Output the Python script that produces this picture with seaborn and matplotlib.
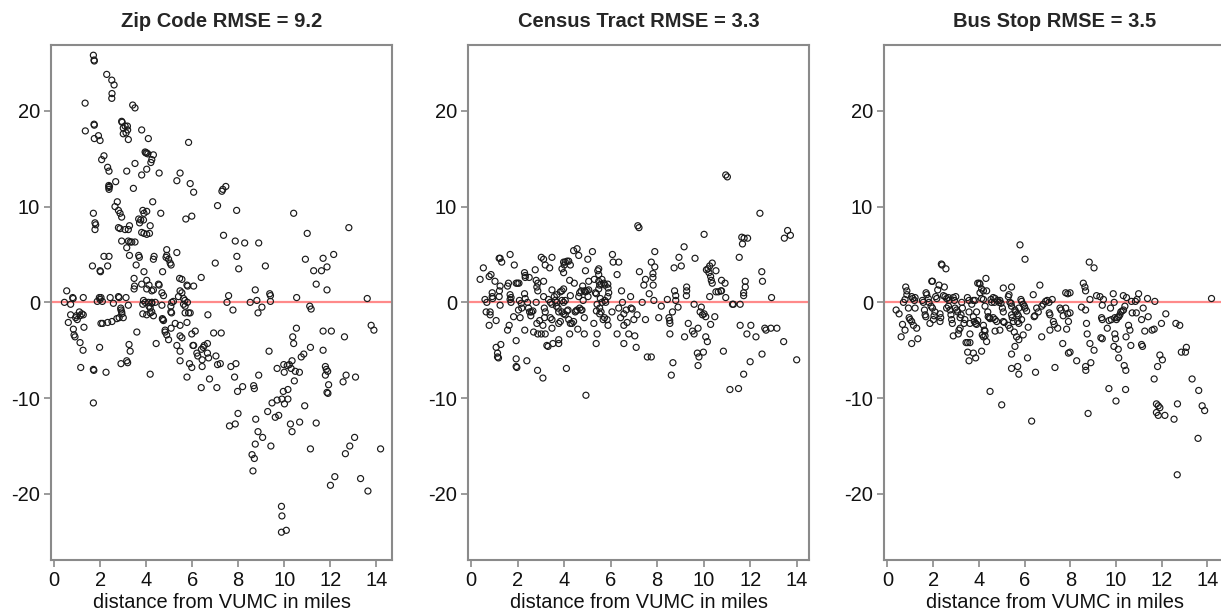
import matplotlib
matplotlib.use("Agg")
import matplotlib.pyplot as plt
import seaborn as sns
import pandas as pd

# ---------------- data ----------------
titles = ["Zip Code RMSE = 9.2", "Census Tract RMSE = 3.3", "Bus Stop RMSE = 3.5"]
x_label = "distance from VUMC in miles"
x_ticks = [0, 2, 4, 6, 8, 10, 12, 14]
y_ticks = [-20, -10, 0, 10, 20]

zip_pts = [
    (1.70, 25.8), (1.73, 25.3), (1.74, 25.2), (2.28, 23.8), (2.50, 23.2), (2.60, 22.7),
    (2.51, 21.8), (2.50, 21.3), (1.34, 20.8), (3.41, 20.6), (3.51, 20.3), (1.35, 17.9),
    (1.73, 18.6), (1.74, 18.5), (1.74, 17.1), (1.92, 17.4), (1.99, 16.9), (2.93, 18.9),
    (2.95, 18.8), (3.08, 18.4), (3.18, 18.4), (3.00, 18.2), (3.12, 17.7), (3.19, 18.0),
    (3.00, 17.6), (3.22, 17.0), (3.80, 18.0), (4.09, 17.1), (5.84, 16.7), (3.95, 15.7),
    (4.02, 15.6), (4.07, 15.5), (3.98, 15.6), (4.31, 15.4), (4.24, 14.9), (4.20, 14.6),
    (2.16, 15.3), (2.06, 14.9), (3.51, 14.5), (2.32, 14.1), (2.38, 13.7), (3.15, 13.7),
    (4.02, 13.9), (3.80, 13.3), (4.56, 13.5), (5.47, 13.5), (5.33, 12.7), (5.91, 12.4),
    (6.06, 11.5), (2.67, 12.6), (2.37, 12.2), (2.37, 12.0), (2.38, 11.8), (2.40, 12.1),
    (3.44, 11.9), (7.29, 11.6), (7.33, 11.8), (7.46, 12.1), (4.28, 10.5), (2.74, 10.5),
    (2.64, 10.0), (2.79, 9.6), (2.86, 9.3), (2.93, 8.9), (7.10, 10.1), (7.93, 9.6),
    (1.70, 9.3), (4.63, 9.3), (5.98, 9.0), (5.72, 8.7), (3.85, 9.6), (3.90, 9.3),
    (4.02, 9.5), (3.67, 8.7), (3.71, 8.3), (3.76, 8.6), (3.88, 8.6), (1.77, 8.3),
    (1.80, 8.1), (1.77, 7.6), (2.79, 7.8), (2.86, 7.7), (3.08, 7.6), (3.22, 7.6),
    (3.27, 8.0), (3.80, 7.3), (3.90, 7.2), (4.02, 7.1), (4.14, 7.2), (4.17, 8.0),
    (7.36, 7.0), (7.87, 6.4), (8.28, 6.2), (8.89, 6.2), (2.93, 6.4), (3.22, 6.4),
    (3.30, 6.3), (3.37, 6.3), (3.51, 6.3), (3.15, 5.7), (4.89, 5.5), (4.86, 4.7),
    (4.97, 4.5), (5.04, 4.1), (5.08, 3.9), (4.89, 4.9), (5.33, 5.2), (2.16, 4.8),
    (2.38, 4.8), (3.27, 4.9), (3.67, 4.9), (3.70, 4.7), (4.34, 4.8), (4.31, 4.5),
    (7.00, 4.1), (7.94, 4.8), (8.02, 3.5), (9.18, 3.8), (10.92, 4.5), (11.00, 7.2),
    (12.15, 5.0), (12.81, 7.8), (10.41, 9.3), (11.69, 4.6), (11.86, 3.7), (11.62, 3.3),
    (11.28, 3.3), (11.39, 1.9), (11.86, 1.3), (1.66, 3.8), (1.99, 3.3), (2.01, 3.2),
    (2.32, 3.8), (3.56, 3.9), (3.90, 3.2), (4.71, 3.2), (3.47, 2.5), (3.49, 1.7),
    (3.47, 1.4), (3.80, 1.9), (4.02, 2.3), (4.02, 1.4), (4.24, 1.2), (4.12, 1.8),
    (4.31, 1.3), (4.53, 1.9), (4.56, 1.8), (4.68, 1.0), (4.75, 0.7), (5.45, 2.5),
    (5.55, 2.4), (5.77, 1.8), (5.80, 1.7), (6.06, 1.7), (6.39, 2.6), (5.47, 1.2),
    (5.55, 1.0), (5.40, 0.6), (5.62, 0.4), (5.68, 0.2), (7.58, 0.7), (7.51, 0.0),
    (8.74, 1.3), (9.37, 0.9), (9.40, 0.7), (9.40, 0.1), (10.54, 0.5), (13.61, 0.4),
    (0.54, 1.2), (0.80, 0.5), (0.82, 0.4), (0.44, 0.0), (1.26, 0.5), (1.96, 0.5),
    (2.03, 0.5), (1.99, 0.3), (1.87, 0.1), (2.09, 0.1), (2.43, 0.5), (2.79, 0.6),
    (2.82, 0.5), (3.12, 0.5), (2.57, -0.1), (3.22, -0.3), (3.88, 0.2), (3.95, 0.0),
    (4.09, 0.0), (4.24, 0.0), (4.39, 0.0), (3.85, -0.2), (4.12, -0.4), (4.24, -0.1),
    (4.68, -0.3), (5.11, 0.0), (5.07, -0.4), (5.18, 0.1), (5.62, -0.2), (5.69, -0.4),
    (5.79, 0.0), (8.52, 0.0), (8.81, 0.2), (9.03, -0.5), (7.77, -0.8), (8.86, -1.1),
    (0.71, -0.2), (0.71, -1.3), (0.93, -1.6), (1.00, -1.8), (0.96, -1.4), (1.12, -1.4),
    (1.20, -1.2), (1.26, -1.3), (1.09, -1.0), (0.61, -2.1), (0.83, -2.8), (0.86, -3.4),
    (0.90, -3.6), (1.12, -4.2), (1.25, -5.0), (1.29, -2.6), (1.15, -6.8), (1.70, -7.0),
    (1.72, -7.1), (1.70, -10.5), (1.97, -4.7), (2.03, -2.2), (2.10, -2.2), (2.32, -2.1),
    (2.51, -2.0), (2.72, -1.7), (2.82, -1.6), (2.89, -0.6), (2.90, -0.8), (2.93, -1.0),
    (2.94, -1.2), (3.00, -1.6), (2.25, -7.3), (2.90, -6.4), (3.15, -6.1), (3.19, -6.3),
    (3.25, -4.4), (3.30, -5.1), (3.59, -3.1), (3.85, -1.2), (4.02, -1.3), (4.17, -0.6),
    (4.24, -1.0), (4.17, -1.1), (4.31, -1.4), (4.43, -4.3), (4.17, -7.5), (4.70, -1.7),
    (4.72, -1.8), (4.75, -1.9), (4.82, -2.9), (4.82, -3.1), (4.89, -3.4), (4.97, -3.9),
    (5.07, -1.0), (5.10, -1.1), (5.08, -2.7), (5.26, -2.2), (5.47, -2.4), (5.33, -4.5),
    (5.47, -3.5), (5.55, -3.7), (5.47, -6.1), (5.47, -5.1), (5.69, -1.1), (5.84, -1.1),
    (5.91, -1.1), (5.77, -2.1), (5.77, -7.8), (5.88, -6.4), (5.98, -6.8), (5.98, -3.3),
    (6.13, -3.0), (6.06, -4.5), (6.03, -4.5), (6.20, -5.3), (6.24, -5.6), (6.40, -4.9),
    (6.48, -4.7), (6.52, -4.5), (6.43, -6.0), (6.43, -6.7), (6.39, -8.9), (6.66, -4.3),
    (6.66, -5.3), (6.71, -5.8), (6.68, -1.3), (6.75, -8.0), (6.93, -3.2), (7.26, -3.2),
    (7.03, -5.6), (7.10, -6.5), (7.22, -6.4), (7.07, -8.9), (7.68, -6.7), (7.90, -6.4),
    (7.84, -7.8), (7.97, -9.3), (8.19, -8.8), (7.99, -11.6), (7.62, -12.9), (7.87, -12.7),
    (8.89, -7.6), (8.67, -8.7), (8.70, -9.0), (8.76, -12.2), (8.86, -13.5), (9.06, -14.1),
    (8.74, -14.8), (8.60, -15.9), (8.70, -16.3), (8.64, -17.6), (9.34, -5.1), (9.28, -11.4),
    (9.42, -15.0), (9.47, -10.5), (9.61, -12.0), (9.76, -11.8), (9.69, -6.9), (9.69, -10.2),
    (9.90, -10.1), (9.98, -6.5), (10.13, -6.6), (10.00, -7.3), (10.22, -6.5), (9.96, -9.3),
    (10.16, -9.1), (10.01, -10.6), (10.16, -10.1), (9.88, -21.3), (9.90, -22.3), (9.88, -24.0),
    (10.09, -23.8), (10.27, -12.7), (10.34, -13.5), (10.30, -6.9), (10.37, -3.6), (10.41, -4.3),
    (10.34, -6.1), (10.48, -7.2), (10.44, -8.2), (10.53, -2.7), (10.66, -7.3), (10.67, -12.5),
    (10.74, -5.7), (10.85, -5.4), (10.89, -10.8), (11.14, -4.7), (11.11, -0.4), (11.17, -0.7),
    (11.14, -15.3), (11.39, -12.6), (11.69, -3.0), (11.69, -5.0), (11.79, -6.7), (11.83, -7.0),
    (11.79, -7.6), (11.89, -7.2), (11.86, -9.4), (11.90, -9.5), (11.93, -8.6), (12.05, -3.0),
    (12.01, -19.1), (12.20, -18.2), (12.62, -3.6), (12.56, -8.3), (12.69, -7.6), (13.10, -7.8),
    (12.66, -15.8), (12.85, -15.0), (13.06, -14.1), (13.32, -18.4), (13.64, -19.7), (13.78, -2.4),
    (13.90, -2.9), (14.19, -15.3),
]

tract_pts = [
    (0.39, 2.4), (0.53, 3.6), (0.60, 0.3), (0.68, 0.0), (0.65, -1.0), (0.82, -1.0),
    (0.82, -1.3), (0.78, -2.4), (0.78, 2.7), (0.86, 2.9), (0.91, 1.0), (0.91, 0.6),
    (0.93, 0.4), (1.03, 2.2), (1.08, -1.9), (1.08, -4.7), (1.14, -5.3), (1.14, -5.7),
    (1.18, -5.8), (1.21, 0.6), (1.22, 1.2), (1.21, 4.6), (1.25, 4.6), (1.32, 4.2),
    (1.25, 1.7), (1.28, -4.4), (1.25, -0.3), (1.57, 1.7), (1.61, 2.0), (1.57, -2.9),
    (1.64, -2.4), (1.68, 5.0), (1.68, 0.8), (1.72, 0.5), (1.68, 0.3), (1.72, 0.0),
    (1.86, 3.9), (1.83, -1.5), (1.94, 2.0), (2.00, 2.0), (2.06, 2.0), (1.94, -4.0),
    (1.94, -5.9), (1.97, -6.8), (1.94, -6.7), (2.08, 0.2), (2.16, -0.1), (2.04, -0.8),
    (2.18, -0.6), (2.11, -1.6), (2.30, 3.1), (2.33, 2.8), (2.33, 2.6), (2.30, 0.9),
    (2.33, 0.4), (2.43, 0.0), (2.31, -2.9), (2.40, -6.1), (2.50, 2.6), (2.47, -0.6),
    (2.52, -1.0), (2.57, -1.4), (2.60, -1.0), (2.66, -0.9), (2.69, -3.1), (2.76, 3.4),
    (2.80, 2.3), (2.87, 2.0), (2.83, 1.6), (2.87, 1.2), (2.80, 0.0), (2.83, -2.2),
    (2.95, -1.9), (2.86, -7.1), (2.87, -3.3), (3.02, 4.7), (3.12, 4.5), (3.02, -3.3),
    (3.19, -3.3), (3.09, -7.9), (3.12, 2.2), (3.12, 0.6), (3.15, -0.6), (3.19, -1.0),
    (3.16, -1.6), (3.09, -2.4), (3.19, 3.9), (3.38, 3.6), (3.26, -4.5), (3.31, -4.6),
    (3.33, 0.3), (3.41, 0.0), (3.48, -0.2), (3.41, -1.6), (3.48, -1.8), (3.48, 1.3),
    (3.48, 4.7), (3.48, -2.7), (3.52, -4.3), (3.58, 0.6), (3.62, 0.2), (3.69, 0.0),
    (3.67, -0.4), (3.74, -0.6), (3.69, 0.8), (3.77, -1.0), (3.77, -2.2), (3.84, -2.0),
    (3.77, -4.3), (3.77, -3.9), (3.84, 1.1), (3.91, 1.2), (3.91, 3.5), (3.98, 4.2),
    (4.01, 3.9), (4.05, 4.2), (4.13, 4.3), (4.20, 4.3), (3.98, 3.1), (3.91, -1.0),
    (3.98, -1.2), (4.05, -1.3), (4.13, -0.9), (4.17, -0.8), (3.91, 0.2), (3.98, 0.0),
    (4.05, 0.2), (3.98, 1.4), (4.10, -6.9), (4.20, -1.8), (4.27, -2.2), (4.24, -3.3),
    (4.24, 2.3), (4.27, 3.9), (4.27, 0.7), (4.34, -2.2), (4.41, -2.0), (4.41, 5.4),
    (4.56, 5.6), (4.44, 2.0), (4.48, -1.0), (4.51, -0.9), (4.56, -0.8), (4.59, -2.8),
    (4.63, 4.9), (4.63, 0.6), (4.67, 1.0), (4.73, 1.2), (4.67, -0.6), (4.73, -0.8),
    (4.77, -0.8), (4.80, 1.7), (4.82, 0.2), (4.87, 1.2), (4.92, 1.1), (4.99, 1.2),
    (5.06, 1.3), (4.92, 3.3), (4.87, -3.3), (4.87, -1.6), (4.94, -9.7), (5.02, 4.5),
    (5.03, 0.6), (5.06, 2.2), (5.22, 5.3), (5.28, -2.2), (5.30, 2.4), (5.35, 1.0),
    (5.39, 0.9), (5.42, -0.2), (5.39, -0.9), (5.38, -4.3), (5.42, -3.3), (5.45, 3.3),
    (5.49, 3.5), (5.49, 2.9), (5.49, 2.2), (5.53, 1.8), (5.59, 1.9), (5.63, 2.4),
    (5.49, 1.4), (5.56, 0.4), (5.63, 0.0), (5.53, -0.6), (5.59, -1.0), (5.53, -1.2),
    (5.68, -1.8), (5.74, -1.6), (5.71, 2.0), (5.76, 1.8), (5.75, 0.2), (5.79, 0.0),
    (5.88, 1.9), (5.89, 1.5), (5.92, 1.0), (5.88, 0.6), (5.85, -1.8), (5.89, -2.4),
    (6.06, -1.0), (6.08, 5.0), (6.11, 4.2), (6.28, -3.3), (6.35, 4.2), (6.28, 2.9),
    (6.35, -0.6), (6.43, -1.6), (6.47, 1.2), (6.51, 0.0), (6.57, -1.2), (6.57, -2.4),
    (6.57, -4.3), (6.67, -0.8), (6.71, -2.1), (6.78, -3.3), (6.86, 0.6), (6.88, -0.6),
    (6.93, -0.7), (7.00, -1.8), (7.04, -3.5), (7.10, -4.7), (7.17, 8.0), (7.22, 7.8),
    (7.24, 3.2), (7.14, -1.3), (7.36, 0.0), (7.43, 1.8), (7.50, 2.4), (7.50, -1.8),
    (7.58, -5.7), (7.75, -5.7), (7.66, 0.9), (7.75, 4.2), (7.82, 3.0), (7.82, 2.6),
    (7.83, 1.8), (7.86, 0.2), (7.90, 3.7), (7.90, 5.3), (8.07, -1.6), (8.18, -0.4),
    (8.44, 0.3), (8.51, -1.6), (8.54, -1.9), (8.55, -2.2), (8.55, -3.3), (8.61, -7.6),
    (8.68, -6.3), (8.66, -1.0), (8.73, 3.6), (8.75, 1.2), (8.80, 0.7), (8.80, 0.2),
    (8.90, -0.5), (8.94, 4.7), (9.04, 3.8), (9.16, 5.8), (9.18, -3.6), (9.27, 1.6),
    (9.27, 1.2), (9.26, 0.7), (9.34, -2.2), (9.52, -3.0), (9.59, -3.3), (9.59, -0.2),
    (9.63, 4.6), (9.73, -5.3), (9.80, -5.7), (9.76, -6.6), (9.76, -2.7), (9.85, -1.0),
    (9.90, -0.5), (9.95, -1.3), (10.02, -1.2), (10.09, -1.5), (10.02, 7.1), (9.99, -5.2),
    (10.09, -3.6), (10.16, -4.1), (10.12, 3.4), (10.19, 3.5), (10.26, 3.8), (10.23, 3.1),
    (10.30, 2.7), (10.33, 2.3), (10.37, 2.0), (10.26, 0.6), (10.30, -2.3), (10.37, 4.1),
    (10.48, -1.5), (10.53, 3.3), (10.53, 1.1), (10.63, 1.1), (10.74, 1.2), (10.77, 1.2),
    (10.77, 2.3), (10.85, -5.1), (10.92, 2.0), (10.95, 13.3), (11.02, 13.1), (10.95, 0.5),
    (11.24, -0.2), (11.28, -0.2), (11.13, -9.1), (11.50, -9.0), (11.53, 4.7), (11.57, -0.2),
    (11.57, -2.4), (11.64, 6.8), (11.67, 6.1), (11.74, 6.7), (11.89, 6.7), (11.72, 1.0),
    (11.72, 0.7), (11.72, -7.5), (11.79, 2.2), (11.79, 1.6), (11.86, -3.3), (12.00, -6.2),
    (12.03, -2.4), (12.42, 9.3), (12.25, -3.6), (12.50, 3.2), (12.53, 2.2), (12.51, -5.4),
    (12.63, -2.7), (12.68, -2.9), (12.89, -2.7), (12.92, 0.5), (13.15, -2.7), (13.44, -4.1),
    (13.47, 6.7), (13.61, 7.5), (13.73, 7.0), (14.00, -6.0),
]

bus_pts = [
    (0.38, -0.8), (0.51, -1.2), (0.60, -3.6), (0.66, -2.3), (0.77, -2.9), (0.70, 0.0),
    (0.77, 0.3), (0.80, 1.6), (0.85, 1.2), (0.85, 0.8), (0.92, -0.6), (0.95, -1.6),
    (0.99, -1.8), (1.06, 0.6), (1.11, 0.4), (1.18, 0.2), (1.21, 0.5), (1.06, -2.0),
    (1.14, -2.4), (1.06, -4.3), (1.21, -0.6), (1.28, -2.7), (1.33, -3.8), (1.53, 0.2),
    (1.57, 0.0), (1.62, -0.8), (1.65, -1.3), (1.68, -1.5), (1.69, 1.0), (1.72, 0.8),
    (1.79, 0.4), (1.82, 0.0), (1.86, -2.2), (1.94, 2.2), (1.97, 2.2), (1.91, -0.4),
    (1.97, -0.6), (2.01, -1.8), (2.04, -1.4), (2.08, -1.0), (2.11, 0.6), (2.16, 0.4),
    (2.20, 1.3), (2.26, 1.8), (2.30, -1.2), (2.33, -1.6), (2.30, -2.0), (2.36, 4.0),
    (2.39, 3.9), (2.56, 3.5), (2.45, 0.7), (2.49, 1.6), (2.52, 0.6), (2.59, 0.4),
    (2.67, 0.5), (2.70, 0.2), (2.59, -0.6), (2.67, -0.4), (2.74, -0.8), (2.78, -1.3),
    (2.81, -1.8), (2.84, -2.2), (2.88, -3.5), (2.88, 0.5), (2.93, 0.2), (2.99, 0.6),
    (2.96, -0.6), (3.03, -0.8), (3.07, -1.0), (3.10, -3.3), (3.13, -2.9), (3.18, -2.7),
    (3.18, -1.6), (3.22, -1.3), (3.25, 0.0), (3.28, -0.6), (3.35, -2.2), (3.39, -1.8),
    (3.44, -4.2), (3.51, -4.2), (3.61, -4.2), (3.51, -5.2), (3.57, -6.1), (3.50, 0.5),
    (3.57, 0.2), (3.57, -1.0), (3.61, -2.2), (3.61, -3.3), (3.69, -0.2), (3.76, 0.2),
    (3.83, 0.2), (3.76, -5.3), (3.86, -5.8), (3.76, -1.5), (3.80, -2.0), (3.86, -2.2),
    (3.90, -2.3), (3.95, -1.9), (3.90, -1.0), (3.95, 2.0), (4.02, 2.0), (4.05, 1.9),
    (4.05, 1.0), (4.12, 1.4), (4.20, 1.2), (4.12, 0.4), (4.20, 0.3), (4.27, -0.4),
    (4.12, -5.1), (4.15, -3.4), (4.20, -3.6), (4.27, -3.5), (4.34, -4.1), (4.20, -2.4),
    (4.24, -2.9), (4.27, -3.0), (4.31, 2.5), (4.34, 1.2), (4.39, -1.0), (4.41, -1.5),
    (4.46, -1.6), (4.49, -1.7), (4.49, -9.3), (4.53, 0.3), (4.56, 0.0), (4.63, 0.5),
    (4.68, 0.0), (4.71, 0.4), (4.63, -1.6), (4.71, -1.8), (4.78, -2.0), (4.71, -3.0),
    (4.82, 0.2), (4.88, 0.0), (4.92, 0.2), (4.97, -0.1), (4.92, -2.9), (5.00, -10.7),
    (5.03, -0.6), (5.07, -1.0), (5.07, -2.0), (5.11, -2.1), (5.07, 1.5), (5.29, 0.6),
    (5.32, 0.8), (5.36, 0.0), (5.41, -0.1), (5.43, -0.4), (5.29, -2.4), (5.36, -2.7),
    (5.43, -5.4), (5.43, 1.6), (5.43, -1.3), (5.46, -1.6), (5.51, -2.0), (5.43, -6.9),
    (5.55, -3.1), (5.58, -4.6), (5.65, -3.6), (5.58, -0.8), (5.61, -1.0), (5.68, -1.2),
    (5.73, -1.4), (5.75, -0.6), (5.70, -2.0), (5.75, -2.2), (5.70, -6.7), (5.75, -7.5),
    (5.75, -3.9), (5.80, 6.0), (5.84, 0.3), (5.87, 0.1), (5.87, -1.8), (5.94, -3.4),
    (5.94, -0.2), (5.99, -0.4), (6.02, -0.6), (6.02, 4.5), (6.09, -0.9), (6.13, -5.8),
    (6.16, -2.6), (6.31, -12.4), (6.38, 0.8), (6.42, -1.5), (6.45, -1.4), (6.48, -7.3),
    (6.53, -0.6), (6.60, -1.0), (6.67, 1.8), (6.75, -3.6), (6.75, -0.4), (6.82, -0.2),
    (6.92, 0.1), (6.99, 0.2), (7.07, 0.0), (7.08, -1.1), (7.11, -1.3), (7.11, -2.9),
    (7.21, 0.3), (7.26, -2.0), (7.30, -2.3), (7.33, -6.8), (7.45, -2.7), (7.55, -0.6),
    (7.60, -0.8), (7.67, -4.3), (7.69, -1.4), (7.80, 1.0), (7.89, 0.9), (7.99, 1.0),
    (7.80, -0.6), (7.84, -2.8), (7.89, -1.2), (7.99, -1.1), (7.92, -2.0), (7.92, -5.3),
    (7.99, -5.2), (8.28, -6.1), (8.49, -0.5), (8.57, 2.0), (8.64, 1.6), (8.67, 1.2),
    (8.67, -0.8), (8.67, -6.7), (8.68, -7.1), (8.71, -2.2), (8.74, -3.3), (8.78, -11.6),
    (8.83, 4.2), (9.04, 3.6), (8.86, -4.3), (8.86, 0.3), (8.90, -6.3), (9.04, -5.0),
    (9.15, 0.7), (9.30, 0.6), (9.45, 0.3), (9.37, -1.6), (9.40, -1.8), (9.34, -3.7),
    (9.40, -3.8), (9.40, -0.3), (9.62, -2.7), (9.69, -9.0), (9.70, -1.9), (9.80, -1.8),
    (9.76, -0.6), (9.88, 0.9), (9.92, 0.0), (9.91, -4.6), (9.95, -3.3), (9.98, -3.8),
    (9.95, -1.6), (10.02, -1.8), (10.06, -1.6), (10.12, -1.5), (10.17, -1.3), (10.21, -1.0),
    (10.27, -0.9), (10.33, -0.8), (10.00, -10.3), (10.10, -4.9), (10.12, -5.8), (10.36, -6.6),
    (10.43, -7.1), (10.32, 0.7), (10.46, 0.5), (10.39, -0.4), (10.44, -3.6), (10.42, -9.1),
    (10.55, -2.4), (10.61, -2.9), (10.65, -4.5), (10.68, 0.1), (10.71, -1.1), (10.85, 0.1),
    (10.89, -1.1), (10.92, 0.3), (10.99, 0.9), (11.12, -4.4), (11.16, -4.6), (11.12, -1.8),
    (11.19, -0.6), (11.26, -3.0), (11.38, 0.4), (11.41, -1.5), (11.58, -2.9), (11.67, -2.8),
    (11.70, 0.1), (11.67, -8.0), (11.77, -10.6), (11.85, -10.8), (11.77, -11.5), (11.85, -11.8),
    (11.92, -11.0), (11.82, -6.7), (11.92, -5.5), (11.99, -2.2), (12.03, -6.0), (12.14, -11.8),
    (12.18, -1.2), (12.54, -12.2), (12.62, -2.2), (12.79, -2.4), (12.69, -10.6), (12.68, -18.0),
    (12.86, -5.2), (13.04, -5.2), (13.08, -4.7), (13.33, -8.0), (13.59, -14.2), (13.62, -9.2),
    (13.77, -10.8), (13.88, -11.3), (14.18, 0.4),
]

panels = [zip_pts, tract_pts, bus_pts]

# ---------------- styling ----------------
sns.set_style("white")
plt.rcParams["font.family"] = ["Liberation Sans", "DejaVu Sans"]
plt.rcParams["axes.unicode_minus"] = False

W, H = 1221, 612
fig = plt.figure(figsize=(W / 100, H / 100), dpi=100)

# axes boxes in pixels: (left, right)
boxes = [(51.3, 392.3), (468.0, 809.0), (884.0, 1225.0)]
xlims = [(-0.13, 14.7), (-0.13, 14.53), (-0.15, 14.77)]
top_px, bot_px = 44.7, 560.0
spine_col = "#8a8a8a"

for pts, title, (l, r), xl in zip(panels, titles, boxes, xlims):
    ax = fig.add_axes([l / W, 1 - bot_px / H, (r - l) / W, (bot_px - top_px) / H])
    df = pd.DataFrame(pts, columns=["distance", "residual"])
    ax.axhline(0, color="#ff8a8a", lw=1.6, zorder=1)
    sns.scatterplot(data=df, x="distance", y="residual", ax=ax,
                    marker="o", s=19, facecolor="none", edgecolor="#1a1a1a",
                    linewidth=0.85, zorder=2)
    ax.set_xlim(*xl)
    ax.set_ylim(-26.9, 26.9)
    ax.set_xticks(x_ticks)
    ax.set_yticks(y_ticks)
    ax.set_xlabel(x_label, fontsize=14.4, color="#111111", labelpad=2)
    ax.set_ylabel("")
    ax.set_title(title, fontsize=14.5, fontweight="bold", pad=13)
    for sp in ax.spines.values():
        sp.set_color(spine_col)
        sp.set_linewidth(1.5)
    ax.tick_params(axis="both", which="major", direction="out", length=5,
                   width=1.2, color=spine_col, labelsize=14.5, labelcolor="#111111",
                   pad=3, bottom=True, left=True)

fig.savefig("out.png", dpi=100)
